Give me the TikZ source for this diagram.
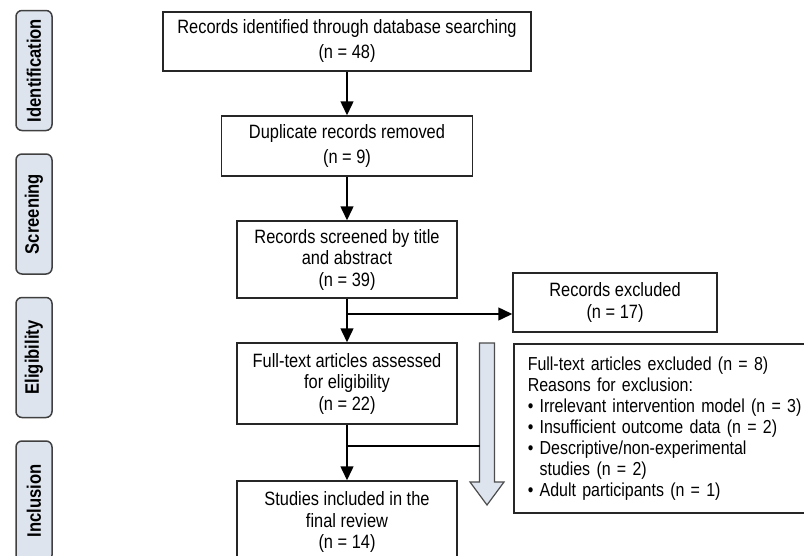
\documentclass[tikz,border=0pt]{standalone}
\usepackage{fontspec}
\setmainfont{Liberation Sans}[FakeStretch=0.85]
\usetikzlibrary{arrows.meta,positioning}
\definecolor{stagefill}{HTML}{DDE4EE}

\begin{document}
\begin{tikzpicture}[
					x=1pt,y=-1pt,
					font=\fontsize{19.3}{21.5}\selectfont,
					box/.style={rectangle,draw=black!85,line width=1.5pt,align=center,inner sep=0pt},
					stage/.style={rectangle,rounded corners=6pt,draw=black!75,line width=1.5pt,fill=stagefill,rotate=90,
						minimum width=120pt,minimum height=36pt,inner sep=0pt,font=\fontsize{19.5}{21}\selectfont\bfseries},
					arr/.style={-{Triangle[width=13pt,length=14pt]},line width=1.5pt},
					]
					\clip (0,0) rectangle (804,555);
					\node [stage] (ident) at (34,70.5) {Identification};
					\node [stage] (scr) at (34,214) {Screening};
					\node [stage] (elig) at (34,357.5) {Eligibility};
					\node [stage] (inc) at (34,501) {Inclusion};
					\node [box,minimum width=368pt,minimum height=59pt,font=\fontsize{19.3}{25}\selectfont] (found) at (347,41.5) {Records identified through database searching\\(n = 48)};
					\node [box,minimum width=251pt,minimum height=60pt,font=\fontsize{19.3}{25}\selectfont] (dupl) at (347,146) {Duplicate records removed\\(n = 9)};
					\node [box,minimum width=220pt,minimum height=77pt] (screen) at (347,259.5) {Records screened by title\\and abstract\\(n = 39)};
					\node [box,minimum width=220pt,minimum height=81pt] (full) at (347,383.5) {Full-text articles assessed\\for eligibility\\(n = 22)};
					\node [box,minimum width=220pt,minimum height=82pt] (final) at (347,522) {Studies included in the\\final review\\(n = 14)};
					\node [box,minimum width=204pt,minimum height=59pt] (recexcl) at (615,302.5) {Records excluded\\(n = 17)};
					\node [box,align=left,anchor=north west,inner xsep=14pt,text width=290pt,minimum height=169pt,
						font=\fontsize{18.8}{21}\selectfont] (fullexcl) at (513,343) {Full-text articles excluded (n = 8)\\Reasons for exclusion:\\
						\textbullet\ Irrelevant intervention model (n = 3)\\\textbullet\ Insufficient outcome data (n = 2)\\
						\textbullet\ Descriptive/non-experimental\\\hphantom{\textbullet\ }studies (n = 2)\\\textbullet\ Adult participants (n = 1)};
					% hollow arrow
					\coordinate (shaftl) at (479.5,343);
					\draw [fill=stagefill,draw=black!70,line width=1.2pt] (shaftl) -- (494.5,343) -- (494.5,482) -- (504,482)
						-- (487,505) -- (470,482) -- (479.5,482) -- cycle;
					\coordinate (split1) at (347,314);
					\coordinate (split2) at (347,446);
					\draw [arr] (found) -- (dupl);
					\draw [arr] (dupl) -- (screen);
					\draw [arr] (screen) -- (full);
					\draw [arr] (full) -- (final);
					\draw [arr] (split1) -- (split1 -| recexcl.west);
					\draw [line width=1.5pt] (split2) -- (split2 -| shaftl);
				\end{tikzpicture}
\end{document}
